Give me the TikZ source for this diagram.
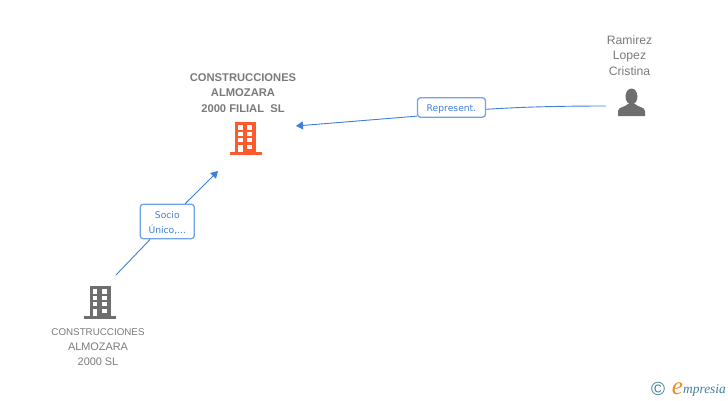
\documentclass[tikz,border=0pt]{standalone}
\usepackage{fontspec}
\setmainfont{Liberation Sans}
\newfontfamily\labelfont{DejaVu Sans}
\newfontfamily\logofont{Liberation Serif}
\usetikzlibrary{arrows.meta}
\definecolor{linkblue}{HTML}{3F7FD6}
\definecolor{framblue}{HTML}{6FA3E6}
\definecolor{textgrey}{HTML}{7A7A7A}
\definecolor{icongrey}{HTML}{6E6E6E}
\definecolor{iconred}{HTML}{FF5A2B}
\definecolor{logoteal}{HTML}{3F8098}
\definecolor{logoorange}{HTML}{F08A1D}
\newcommand{\taglow}[1]{\raisebox{-1.4pt}[\height][\depth]{#1}}
\tikzset{
  entityname/.style={text=textgrey, font=\fontsize{10.9}{15.3}\selectfont, align=center, inner sep=0pt},
  mainname/.style={entityname, font=\fontsize{11.2}{15.3}\selectfont\bfseries},
  personname/.style={entityname, font=\fontsize{12.2}{15.3}\selectfont},
  tagbox/.style={draw=framblue, line width=1.3pt, rounded corners=3pt, fill=white, text=linkblue,
    font=\labelfont\fontsize{9.2}{15}\selectfont, align=center, inner sep=0pt},
  link/.style={draw=linkblue, line width=0.9pt},
  linkarrow/.style={link, -{Triangle[length=7pt,width=8pt]}},
  pics/building/.style={code={
    \fill[#1] (-10.5,0) rectangle (10.5,30);
    \fill[#1] (-16,-3) rectangle (16,0);
    \foreach \y in {22.5,16,10} {
      \fill[white] (-7.5,\y) rectangle (-2.7,\y+4.2);
      \fill[white] (1.7,\y) rectangle (6.5,\y+4.2);
    }
    \fill[white] (-7.5,0) rectangle (-3,7.2);
    \fill[white] (1.7,3) rectangle (6.5,7.2);
  }},
  pics/person/.style={code={
    \fill[#1] (0,19.5) ellipse (6 and 8);
    \fill[#1] (-13.5,0) -- (-13.5,5) .. controls (-13.5,9) and (-6,9) .. (-3.5,12)
      -- (3.5,12) .. controls (6,9) and (13.5,9) .. (13.5,5) -- (13.5,0) -- cycle;
  }}
}
\begin{document}
\begin{tikzpicture}[x=1pt,y=1pt]
    \useasboundingbox (0,0) rectangle (728,-400);
    % the icons
    \pic at (245.5,-152) {building=iconred};
    \pic at (100,-316) {building=icongrey};
    \pic at (631.5,-116) {person=icongrey};
    % the names
    \node[mainname] (filial) at (243,-93) {CONSTRUCCIONES\\ALMOZARA\\2000 FILIAL\ \ SL};
    \node[entityname] (matriz) at (98,-347) {{\fontsize{9.8}{15.3}\selectfont CONSTRUCCIONES}\\ALMOZARA\\2000 SL};
    \node[personname] (ramirez) at (629.5,-55.5) {Ramirez\\Lopez\\Cristina};
    % the ends of the connectors
    \coordinate (ramirezend) at (606,-106);
    \coordinate (filialend) at (296,-126);
    \coordinate (matrizend) at (116,-275);
    \coordinate (sociotip) at (218,-171);
    % the labels on the connectors
    \node[tagbox, minimum width=68pt, minimum height=19.5pt] (represent) at (451.5,-107.5) {\taglow{Represent.}};
    \node[tagbox, minimum width=54pt, minimum height=34.5pt] (socio) at (167.3,-221.5) {\taglow{Socio}\\\taglow{Único,...}};
    % draw the connectors
    \draw[link] (ramirezend) .. controls (560,-106) and (520,-107) .. (represent.-3.4);
    \draw[linkarrow] (represent.194) -- (filialend);
    \draw[link] (matrizend) -- (socio);
    \draw[linkarrow] (socio) -- (sociotip);
    % the logo
    \node[text=logoteal, font=\fontsize{19}{19}\selectfont, inner sep=0pt] (copyr) at (658,-389) {\textcopyright};
    \node[text=logoorange, font=\logofont\fontsize{25}{25}\selectfont\itshape, inner sep=0pt] (logoe) at (677.5,-389) {e};
    \node[text=logoteal, font=\logofont\fontsize{13.4}{13.4}\selectfont\itshape, inner sep=0pt, anchor=west] (logotext) at (683,-390) {mpresia};
\end{tikzpicture}
\end{document}
